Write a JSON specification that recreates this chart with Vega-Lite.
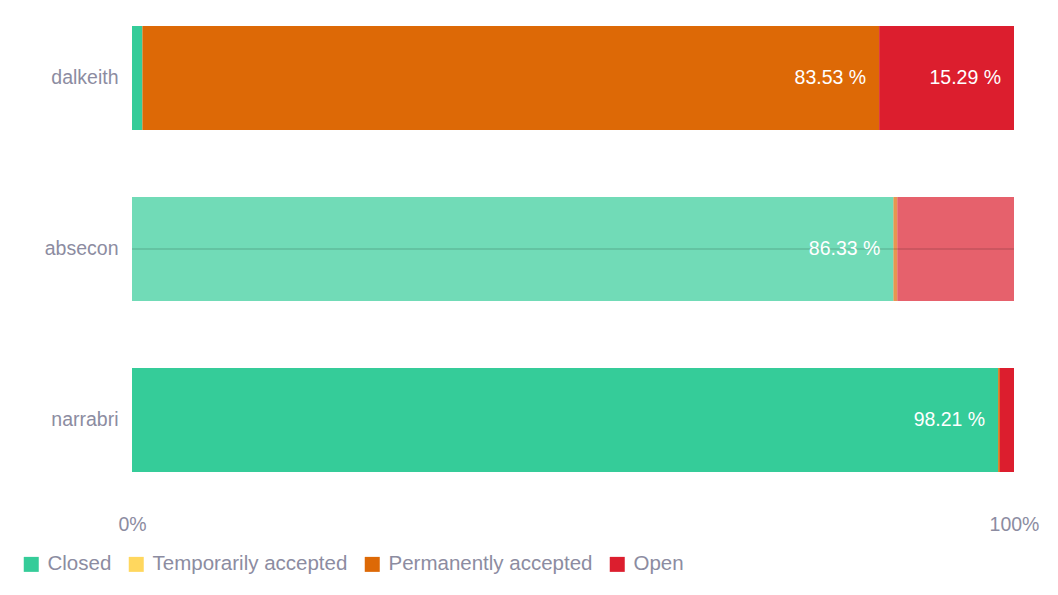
{
  "$schema": "https://vega.github.io/schema/vega-lite/v6.json",
  "autosize": "none",
  "width": 882,
  "height": 446,
  "padding": {"left": 132, "top": 26, "right": 44, "bottom": 123},
  "background": "white",
  "data": {
    "values": [
      {"site": "dalkeith", "status": "Closed", "order": 1, "pct": 1.18},
      {"site": "dalkeith", "status": "Temporarily accepted", "order": 2, "pct": 0},
      {"site": "dalkeith", "status": "Permanently accepted", "order": 3, "pct": 83.53},
      {"site": "dalkeith", "status": "Open", "order": 4, "pct": 15.29},
      {"site": "absecon", "status": "Closed", "order": 1, "pct": 86.33},
      {"site": "absecon", "status": "Temporarily accepted", "order": 2, "pct": 0},
      {"site": "absecon", "status": "Permanently accepted", "order": 3, "pct": 0.44},
      {"site": "absecon", "status": "Open", "order": 4, "pct": 13.23},
      {"site": "narrabri", "status": "Closed", "order": 1, "pct": 98.21},
      {"site": "narrabri", "status": "Temporarily accepted", "order": 2, "pct": 0},
      {"site": "narrabri", "status": "Permanently accepted", "order": 3, "pct": 0.19},
      {"site": "narrabri", "status": "Open", "order": 4, "pct": 1.6}
    ]
  },
  "transform": [
    {"stack": "pct", "groupby": ["site"], "sort": [{"field": "order"}], "offset": "normalize", "as": ["x0", "x1"]},
    {"calculate": "format(datum.pct, '.2f') + ' %'", "as": "label"}
  ],
  "encoding": {
    "y": {
      "field": "site",
      "type": "nominal",
      "sort": ["dalkeith", "absecon", "narrabri"],
      "scale": {"paddingInner": 0.392, "paddingOuter": 0},
      "axis": {
        "title": null,
        "ticks": false,
        "domain": false,
        "labelPadding": 14,
        "labelFontSize": 19.5,
        "labelColor": "#8c8ca1",
        "labelFont": "Liberation Sans"
      }
    }
  },
  "layer": [
    {
      "transform": [{"filter": "datum.pct > 0"}],
      "mark": {"type": "bar"},
      "encoding": {
        "x": {
          "field": "x0",
          "type": "quantitative",
          "scale": {"domain": [0, 1]},
          "axis": {
            "title": null,
            "format": "%",
            "values": [0, 1],
            "ticks": false,
            "domain": false,
            "grid": false,
            "labelPadding": 43,
            "labelFontSize": 19.5,
            "labelColor": "#8c8ca1",
            "labelFont": "Liberation Sans",
            "labelFlush": false
          }
        },
        "x2": {"field": "x1"},
        "color": {
          "field": "status",
          "type": "nominal",
          "scale": {
            "domain": ["Closed", "Temporarily accepted", "Permanently accepted", "Open"],
            "range": ["#35cc99", "#ffd75e", "#dd6906", "#dc1e2e"]
          },
          "legend": {
            "title": null,
            "orient": "none",
            "direction": "horizontal",
            "legendX": -111,
            "legendY": 528,
            "symbolType": "square",
            "symbolSize": 225,
            "symbolStrokeWidth": 0,
            "symbolOpacity": 1,
            "labelFontSize": 20.5,
            "labelColor": "#8c8ca1",
            "labelFont": "Liberation Sans",
            "labelLimit": 0,
            "labelOffset": 6,
            "columnPadding": 14
          }
        },
        "opacity": {
          "condition": {"test": "datum.site === 'absecon'", "value": 0.7},
          "value": 1
        }
      }
    },
    {
      "transform": [{"filter": "datum.site === 'absecon' && datum.order === 1"}],
      "mark": {"type": "rule", "color": "black", "opacity": 0.15, "strokeWidth": 1.5},
      "encoding": {
        "x": {"datum": 0, "type": "quantitative"},
        "x2": {"datum": 1}
      }
    },
    {
      "transform": [{"filter": "datum.pct > 14"}],
      "mark": {
        "type": "text",
        "align": "right",
        "baseline": "middle",
        "dx": -13,
        "color": "white",
        "fontSize": 19.5,
        "font": "Liberation Sans"
      },
      "encoding": {
        "x": {"field": "x1", "type": "quantitative"},
        "text": {"field": "label"}
      }
    }
  ],
  "config": {
    "view": {"stroke": null}
  }
}
